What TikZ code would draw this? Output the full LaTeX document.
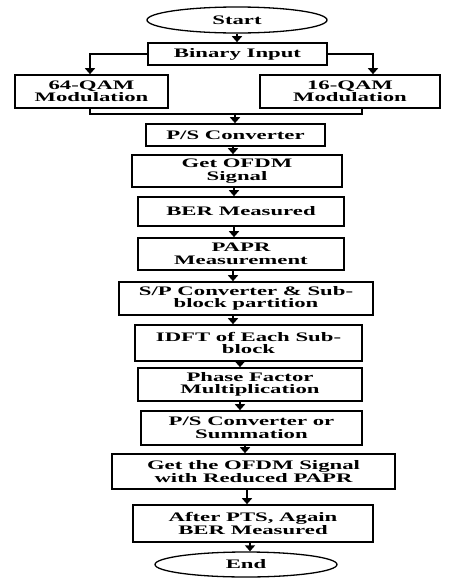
\documentclass[tikz,border=0pt]{standalone}
\usepackage{fontspec}
\usepackage{tikz}
\usetikzlibrary{shapes.geometric,arrows.meta,calc}
\newfontfamily\boxfont{Liberation Serif}[FakeStretch=1.75]
\def\bx{\boxfont\bfseries\fontsize{13pt}{12.5pt}\selectfont}

\begin{document}
\begin{tikzpicture}[x=1pt,y=-1pt,
    blk/.style={draw,line width=1.6pt,rectangle,inner sep=0pt,align=center,font=\bx},
    term/.style={draw,line width=1.3pt,ellipse,inner sep=0pt,font=\bx},
    arr/.style={line width=1.6pt,-{Triangle[width=10pt,length=6pt]}},
    lnk/.style={line width=1.6pt}]
    \useasboundingbox (0,0) rectangle (449,582);

    \node[term,minimum width=180pt,minimum height=26pt] (start) at (237,20) {Start};
    \node[blk,minimum width=179pt,minimum height=22pt] (bin) at (237.5,54) {Binary Input};
    \node[blk,minimum width=153pt,minimum height=33pt] (qam64) at (91.5,91.5) {64-QAM\\Modulation};
    \node[blk,minimum width=180pt,minimum height=33pt] (qam16) at (350,91.5) {16-QAM\\Modulation};
    \node[blk,minimum width=179pt,minimum height=22pt] (ps) at (235.5,135) {P/S Converter};
    \node[blk,minimum width=210pt,minimum height=32pt] (ofdm) at (237,171) {Get OFDM\\Signal};
    \node[blk,minimum width=206pt,minimum height=29pt] (ber) at (241,211.5) {BER Measured};
    \node[blk,minimum width=206pt,minimum height=32pt] (papr) at (241,254) {PAPR\\Measurement};
    \node[blk,minimum width=254pt,minimum height=33pt] (sp) at (246,298.5) {S/P Converter \& Sub-\\block partition};
    \node[blk,minimum width=227pt,minimum height=36pt] (idft) at (248.5,343) {IDFT of Each Sub-\\block};
    \node[blk,minimum width=224pt,minimum height=33pt] (phase) at (250,384.5) {Phase Factor\\Multiplication};
    \node[blk,minimum width=221pt,minimum height=34pt] (pssum) at (251.5,428) {P/S Converter or\\Summation};
    \node[blk,minimum width=283pt,minimum height=35pt] (red) at (253.5,471.5) {Get the OFDM Signal\\with Reduced PAPR};
    \node[blk,minimum width=240pt,minimum height=37pt] (pts) at (253,523.5) {After PTS, Again\\BER Measured};
    \node[term,minimum width=182pt,minimum height=25pt] (end) at (246,564.5) {End};

    % split and merge
    \coordinate (lft) at (90,0);
    \coordinate (rgt) at (373,0);
    \coordinate (mrg) at (235,114);
    \draw[arr] (start.south) -- (start.south |- bin.north);
    \draw[arr] (bin.west) -| (lft |- qam64.north);
    \draw[arr] (bin.east) -| (rgt |- qam16.north);
    \draw[lnk] (lft |- qam64.south) |- (mrg) -| (362,0 |- qam16.south);
    \draw[arr] (mrg) -- (mrg |- ps.north);

    \foreach \a/\b/\x in {ps/ofdm/233,ofdm/ber/234,ber/papr/234,papr/sp/233,sp/idft/233,
        idft/phase/240,phase/pssum/240,pssum/red/245,red/pts/247,pts/end/250}
        \draw[arr] (\x,0 |- \a.south) -- (\x,0 |- \b.north);
\end{tikzpicture}
\end{document}
